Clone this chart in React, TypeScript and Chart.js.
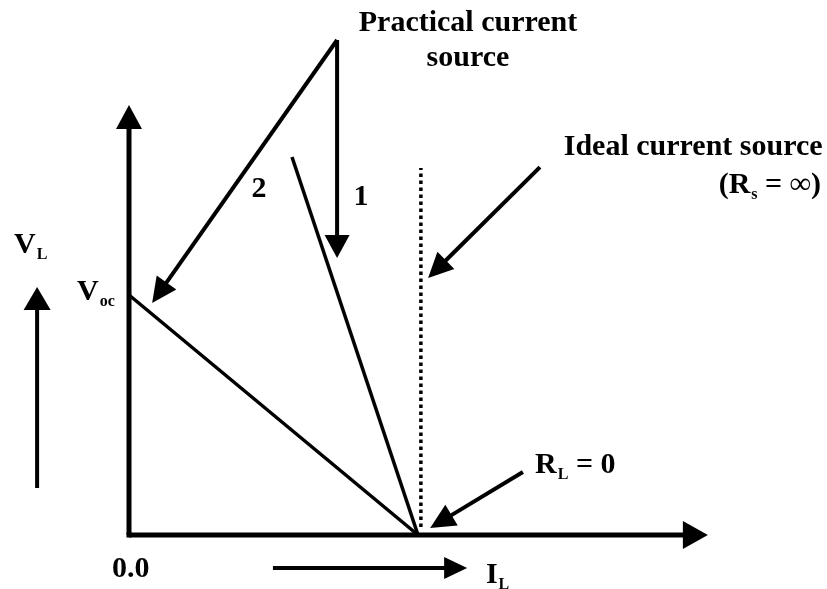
import React, { useEffect, useRef } from "react";
import { Chart, registerables } from "chart.js";

Chart.register(...registerables);

// Axis ranges (I_L horizontal, V_L vertical; I_sc = 1, V_oc = 1)
const X_MIN = -0.4464;
const X_MAX = 2.4152;
const Y_MIN = -0.225;
const Y_MAX = 2.2292;

// Practical source 2 (line from V_oc to I_sc)
const source2I = [0, 1.0];
const source2V = [1.0, 0];
// Practical source 1 (steeper line)
const source1I = [0.564, 1.0];
const source1V = [1.575, 0];
// Ideal current source (Rs = infinity)
const idealI = [1.01, 1.01];
const idealV = [0.033, 1.529];

// Axes with arrowheads
const axisXEnd = [2.003, 0];
const axisYEnd = [0, 1.792];

// Annotation arrows: [fromI, fromV, toI, toV]
const arrowTo2 = [0.72, 2.0625, 0.08, 0.967];
const arrowTo1 = [0.72, 2.0625, 0.72, 1.154];
const arrowIdeal = [1.422, 1.533, 1.035, 1.071];
const arrowRL = [1.363, 0.2625, 1.042, 0.029];
const arrowVL = [-0.318, 0.196, -0.318, 1.033];
const arrowIL = [0.498, -0.1375, 1.17, -0.1375];

type Part = { t: string; sub?: boolean };
type Label = { x: number; y: number; align: "left" | "center" | "right"; parts: Part[] };

const labels: Label[] = [
  { x: 1.173, y: 2.1, align: "center", parts: [{ t: "Practical current" }] },
  { x: 1.173, y: 1.954, align: "center", parts: [{ t: "source" }] },
  { x: 2.4, y: 1.583, align: "right", parts: [{ t: "Ideal current source" }] },
  { x: 2.391, y: 1.425, align: "right", parts: [{ t: "(R" }, { t: "s", sub: true }, { t: " = \u221E)" }] },
  { x: 0.45, y: 1.408, align: "center", parts: [{ t: "2" }] },
  { x: 0.803, y: 1.375, align: "center", parts: [{ t: "1" }] },
  { x: -0.398, y: 1.175, align: "left", parts: [{ t: "V" }, { t: "L", sub: true }] },
  { x: -0.18, y: 0.979, align: "left", parts: [{ t: "V" }, { t: "oc", sub: true }] },
  { x: 1.405, y: 0.258, align: "left", parts: [{ t: "R" }, { t: "L", sub: true }, { t: " = 0" }] },
  { x: 1.235, y: -0.2, align: "left", parts: [{ t: "I" }, { t: "L", sub: true }] },
  { x: -0.059, y: -0.175, align: "left", parts: [{ t: "0.0" }] },
];

const FONT_MAIN = 'bold 30px "Liberation Serif", "Times New Roman", serif';
const FONT_SUB = 'bold 16px "Liberation Serif", "Times New Roman", serif';

function pts(xs: number[], ys: number[]) {
  return xs.map((x, i) => ({ x, y: ys[i] }));
}

const diagramPlugin = {
  id: "diagram",
  afterDatasetsDraw(chart: any) {
    const { ctx, scales } = chart;
    const px = (v: number) => scales.x.getPixelForValue(v);
    const py = (v: number) => scales.y.getPixelForValue(v);

    const arrow = (a: number[], lw: number, hl: number, hw: number) => {
      const x1 = px(a[0]), y1 = py(a[1]), x2 = px(a[2]), y2 = py(a[3]);
      const ang = Math.atan2(y2 - y1, x2 - x1);
      const bx = x2 - Math.cos(ang) * hl;
      const by = y2 - Math.sin(ang) * hl;
      ctx.save();
      ctx.strokeStyle = "#000";
      ctx.fillStyle = "#000";
      ctx.lineWidth = lw;
      ctx.lineCap = "butt";
      ctx.beginPath();
      ctx.moveTo(x1, y1);
      ctx.lineTo(bx + Math.cos(ang) * 2, by + Math.sin(ang) * 2);
      ctx.stroke();
      ctx.beginPath();
      ctx.moveTo(x2, y2);
      ctx.lineTo(bx + Math.sin(ang) * hw / 2, by - Math.cos(ang) * hw / 2);
      ctx.lineTo(bx - Math.sin(ang) * hw / 2, by + Math.cos(ang) * hw / 2);
      ctx.closePath();
      ctx.fill();
      ctx.restore();
    };

    // axes
    arrow([0, 0, axisXEnd[0], axisXEnd[1]], 5, 25, 28);
    arrow([0, 0, axisYEnd[0], axisYEnd[1]], 5, 24, 26);
    ctx.save();
    ctx.fillStyle = "#000";
    ctx.fillRect(px(0) - 2.5, py(0) - 2.5, 5, 5);
    ctx.restore();

    arrow(arrowTo2, 4, 25, 24);
    arrow(arrowTo1, 4, 23, 25);
    arrow(arrowIdeal, 4, 25, 24);
    arrow(arrowRL, 4, 25, 24);
    arrow(arrowVL, 4, 23, 27);
    arrow(arrowIL, 4, 23, 22);

    // text
    ctx.save();
    ctx.fillStyle = "#000";
    ctx.textBaseline = "alphabetic";
    for (const lb of labels) {
      let total = 0;
      const widths = lb.parts.map((p) => {
        ctx.font = p.sub ? FONT_SUB : FONT_MAIN;
        const w = ctx.measureText(p.t).width;
        total += w;
        return w;
      });
      let x = px(lb.x);
      if (lb.align === "center") x -= total / 2;
      else if (lb.align === "right") x -= total;
      const y = py(lb.y);
      ctx.textAlign = "left";
      lb.parts.forEach((p, i) => {
        ctx.font = p.sub ? FONT_SUB : FONT_MAIN;
        ctx.fillText(p.t, x + (p.sub ? 1 : 0), p.sub ? y + 6 : y);
        x += widths[i] + (p.sub ? 1 : 0);
      });
    }
    ctx.restore();
  },
};

export default function App() {
  const ref = useRef<HTMLCanvasElement>(null);
  useEffect(() => {
    if (!ref.current) return;
    const chart = new Chart(ref.current, {
      type: "scatter",
      data: {
        datasets: [
          {
            label: "Practical source 2",
            data: pts(source2I, source2V),
            showLine: true,
            borderColor: "#000",
            borderWidth: 3.5,
            pointRadius: 0,
          },
          {
            label: "Practical source 1",
            data: pts(source1I, source1V),
            showLine: true,
            borderColor: "#000",
            borderWidth: 3.5,
            pointRadius: 0,
          },
          {
            label: "Ideal current source",
            data: pts(idealI, idealV),
            showLine: true,
            borderColor: "#000",
            borderWidth: 3.5,
            borderDash: [3.5, 3.5],
            pointRadius: 0,
          },
        ],
      },
      options: {
        responsive: false,
        animation: false,
        layout: { padding: 0 },
        plugins: { legend: { display: false }, tooltip: { enabled: false } },
        scales: {
          x: { type: "linear", min: X_MIN, max: X_MAX, display: false },
          y: { type: "linear", min: Y_MIN, max: Y_MAX, display: false },
        },
      },
      plugins: [diagramPlugin],
    });
    return () => chart.destroy();
  }, []);
  return (
    <div style={{ position: "absolute", left: 0, top: 0, width: 827, height: 589, background: "#fff" }}>
      <canvas ref={ref} width={827} height={589} style={{ display: "block" }} />
    </div>
  );
}
